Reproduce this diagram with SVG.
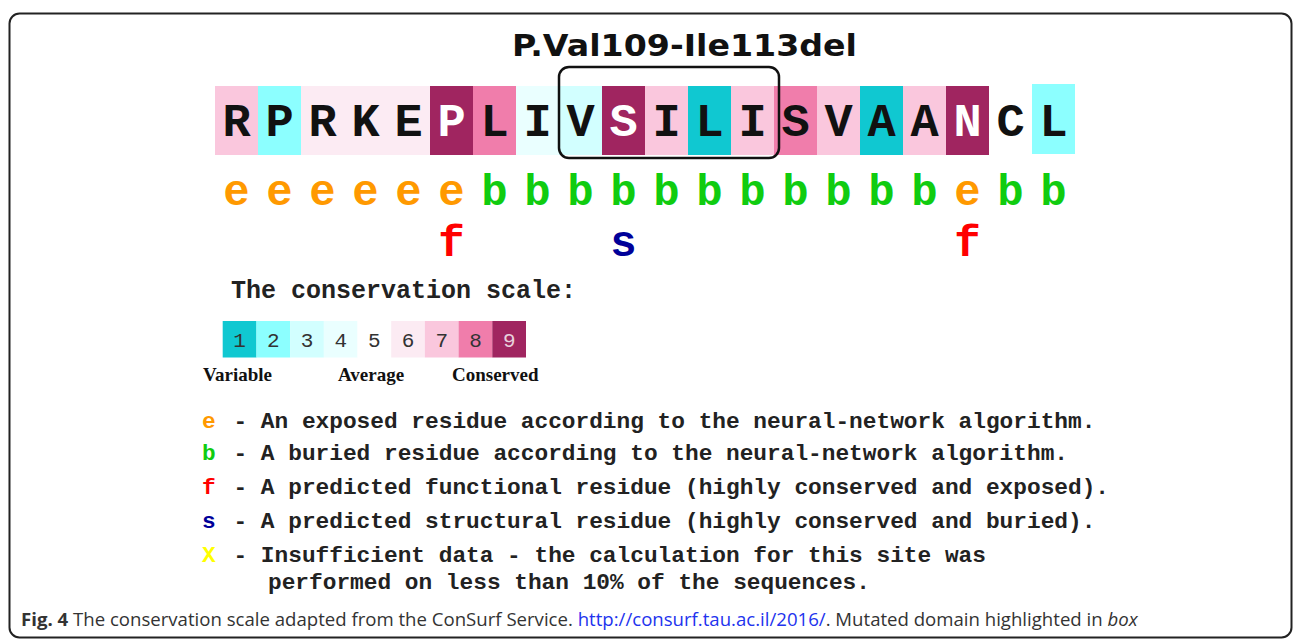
<svg xmlns="http://www.w3.org/2000/svg" width="1295" height="644" viewBox="0 0 1295 644">
<style>
.g1{fill:#10C8D1}.g2{fill:#8CFFFF}.g3{fill:#D2FFFF}.g4{fill:#EAFFFF}.g5{fill:#FFFFFF}.g6{fill:#FCEBF3}.g7{fill:#FAC7DD}.g8{fill:#F07DAB}.g9{fill:#A02560}
.aa{font-family:"Liberation Mono","Courier New",monospace;font-weight:bold;font-size:47px;text-anchor:middle;fill:#111}
text.aw{fill:#fff}
.bu{font-family:"Liberation Mono","Courier New",monospace;font-weight:bold;font-size:44px;text-anchor:middle}
.mono{font-family:"Liberation Mono","Courier New",monospace;font-weight:bold;font-size:22.8px;fill:#222}
text.e{fill:#FF9900}text.b{fill:#10CC10}text.f{fill:#FF0000}text.s{fill:#000099}text.x{fill:#FFFF00}
.dig{font-family:"Liberation Mono","Courier New",monospace;font-size:21px;text-anchor:middle;fill:#333}
.lab{font-family:"Liberation Serif","Times New Roman",serif;font-weight:bold;font-size:19px;fill:#111}
.cap{font-family:"Open Sans","Noto Sans",sans-serif;font-size:18.6px;fill:#333}
</style>
<rect id="frame" x="9.5" y="13.5" width="1282" height="624" rx="10" fill="#fff" stroke="#222" stroke-width="2"/>
<g id="title"><text x="684.5" y="56" font-family="DejaVu Sans,Verdana,sans-serif" font-weight="bold" font-size="30" text-anchor="middle" textLength="345" lengthAdjust="spacingAndGlyphs" fill="#111">P.Val109-Ile113del</text></g>
<g id="sequence">
<g id="r1"><rect class="g7" x="215" y="86" width="43" height="69"/><text class="aa" x="236.5" y="136">R</text></g>
<g id="r2"><rect class="g2" x="258" y="86" width="43" height="69"/><text class="aa" x="279.5" y="136">P</text></g>
<g id="r3"><rect class="g6" x="301" y="86" width="43" height="69"/><text class="aa" x="322.5" y="136">R</text></g>
<g id="r4"><rect class="g6" x="344" y="86" width="43" height="69"/><text class="aa" x="365.5" y="136">K</text></g>
<g id="r5"><rect class="g6" x="387" y="86" width="43" height="69"/><text class="aa" x="408.5" y="136">E</text></g>
<g id="r6"><rect class="g9" x="430" y="86" width="43" height="69"/><text class="aa aw" x="451.5" y="136">P</text></g>
<g id="r7"><rect class="g8" x="473" y="86" width="43" height="69"/><text class="aa" x="494.5" y="136">L</text></g>
<g id="r8"><rect class="g4" x="516" y="86" width="43" height="69"/><text class="aa" x="537.5" y="136">I</text></g>
<g id="r9"><rect class="g3" x="559" y="86" width="43" height="69"/><text class="aa" x="580.5" y="136">V</text></g>
<g id="r10"><rect class="g9" x="602" y="86" width="43" height="69"/><text class="aa aw" x="623.5" y="136">S</text></g>
<g id="r11"><rect class="g7" x="645" y="86" width="43" height="69"/><text class="aa" x="666.5" y="136">I</text></g>
<g id="r12"><rect class="g1" x="688" y="86" width="43" height="69"/><text class="aa" x="709.5" y="136">L</text></g>
<g id="r13"><rect class="g7" x="731" y="86" width="43" height="69"/><text class="aa" x="752.5" y="136">I</text></g>
<g id="r14"><rect class="g8" x="774" y="86" width="43" height="69"/><text class="aa" x="795.5" y="136">S</text></g>
<g id="r15"><rect class="g7" x="817" y="86" width="43" height="69"/><text class="aa" x="838.5" y="136">V</text></g>
<g id="r16"><rect class="g1" x="860" y="86" width="43" height="69"/><text class="aa" x="881.5" y="136">A</text></g>
<g id="r17"><rect class="g7" x="903" y="86" width="43" height="69"/><text class="aa" x="924.5" y="136">A</text></g>
<g id="r18"><rect class="g9" x="946" y="86" width="43" height="69"/><text class="aa aw" x="967.5" y="136">N</text></g>
<g id="r19"><rect class="g5" x="989" y="86" width="43" height="69"/><text class="aa" x="1010.5" y="136">C</text></g>
<g id="r20"><rect class="g2" x="1032" y="84" width="43" height="70"/><text class="aa" x="1053.5" y="136">L</text></g>
</g>
<g id="mutated-box"><rect x="559" y="67" width="220" height="91" rx="10" fill="none" stroke="#111" stroke-width="2.5"/></g>
<g id="burial">
<text class="bu e" x="236.5" y="205">e</text><text class="bu e" x="279.5" y="205">e</text><text class="bu e" x="322.5" y="205">e</text><text class="bu e" x="365.5" y="205">e</text><text class="bu e" x="408.5" y="205">e</text><text class="bu e" x="451.5" y="205">e</text>
<text class="bu b" x="494.5" y="205">b</text><text class="bu b" x="537.5" y="205">b</text><text class="bu b" x="580.5" y="205">b</text><text class="bu b" x="623.5" y="205">b</text><text class="bu b" x="666.5" y="205">b</text><text class="bu b" x="709.5" y="205">b</text><text class="bu b" x="752.5" y="205">b</text><text class="bu b" x="795.5" y="205">b</text><text class="bu b" x="838.5" y="205">b</text><text class="bu b" x="881.5" y="205">b</text><text class="bu b" x="924.5" y="205">b</text>
<text class="bu e" x="967.5" y="205">e</text><text class="bu b" x="1010.5" y="205">b</text><text class="bu b" x="1053.5" y="205">b</text>
</g>
<g id="function">
<text class="bu f" x="451.5" y="256">f</text><text class="bu s" x="623.5" y="256">s</text><text class="bu f" x="967.5" y="256">f</text>
</g>
<g id="scale">
<text class="mono" x="231" y="298" style="font-size:25px">The conservation scale:</text>
<rect class="g1" x="222.7" y="321" width="33.8" height="36.5"/><text class="dig" x="239.6" y="347">1</text>
<rect class="g2" x="256.4" y="321" width="33.8" height="36.5"/><text class="dig" x="273.3" y="347">2</text>
<rect class="g3" x="290.1" y="321" width="33.8" height="36.5"/><text class="dig" x="307" y="347">3</text>
<rect class="g4" x="323.8" y="321" width="33.8" height="36.5"/><text class="dig" x="340.7" y="347">4</text>
<rect class="g5" x="357.5" y="321" width="33.8" height="36.5"/><text class="dig" x="374.4" y="347">5</text>
<rect class="g6" x="391.2" y="321" width="33.8" height="36.5"/><text class="dig" x="408.1" y="347">6</text>
<rect class="g7" x="424.9" y="321" width="33.8" height="36.5"/><text class="dig" x="441.8" y="347">7</text>
<rect class="g8" x="458.6" y="321" width="33.8" height="36.5"/><text class="dig" x="475.5" y="347">8</text>
<rect class="g9" x="492.3" y="321" width="33.7" height="36.5"/><text class="dig" x="509.2" y="347" style="fill:#e8d0dc">9</text>
<text class="lab" x="203" y="381">Variable</text>
<text class="lab" x="338" y="381">Average</text>
<text class="lab" x="452" y="381">Conserved</text>
</g>
<g id="legend">
<text class="mono e" x="202" y="428">e</text><text class="mono" x="233.5" y="428">- An exposed residue according to the neural-network algorithm.</text>
<text class="mono b" x="202" y="460">b</text><text class="mono" x="233.5" y="460">- A buried residue according to the neural-network algorithm.</text>
<text class="mono f" x="202" y="494">f</text><text class="mono" x="233.5" y="494">- A predicted functional residue (highly conserved and exposed).</text>
<text class="mono s" x="202" y="528">s</text><text class="mono" x="233.5" y="528">- A predicted structural residue (highly conserved and buried).</text>
<text class="mono x" x="202" y="562">X</text><text class="mono" x="233.5" y="562">- Insufficient data - the calculation for this site was</text>
<text class="mono" x="268" y="589">performed on less than 10% of the sequences.</text>
</g>
<g id="caption">
<text class="cap" x="21" y="626"><tspan font-weight="bold">Fig. 4</tspan> The conservation scale adapted from the ConSurf Service. <tspan fill="#2233ee">http://consurf.tau.ac.il/2016/</tspan>. Mutated domain highlighted in <tspan font-style="italic">box</tspan></text>
</g>
</svg>
